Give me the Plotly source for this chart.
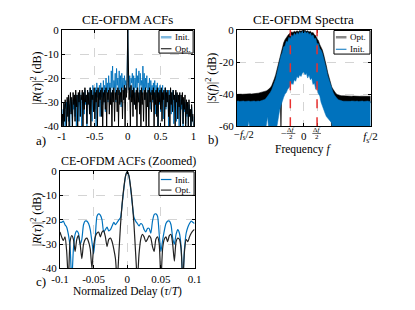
import numpy as np
import plotly.graph_objects as go

W, H = 415, 310
SERIF = "Liberation Serif"


def px(x):
    return x / W


def py(y):
    return 1 - y / H


# ---------------- Panel a: CE-OFDM ACFs (full delay range) ----------------
tau_a = np.round(np.linspace(-1, 1, 201), 2)
acf_init_a = [
    -40, -38, -33, -40, -31, -36, -40, -30, -35, -29,
    -38, -31, -40, -28, -34, -30, -40, -29, -33, -27,
    -36, -29, -40, -27, -32, -28, -38, -26, -31, -28,
    -40, -26, -30, -27, -35, -25, -31, -27, -40, -25,
    -29, -26, -34, -24, -30, -27, -38, -23, -29, -26,
    -33, -24, -40, -22, -28, -25, -32, -23, -36, -22,
    -28, -24, -31, -21, -27, -23, -34, -20, -26, -22,
    -30, -19, -25, -22, -29, -17, -24, -15, -28, -21,
    -24, -18, -30, -16, -23, -20, -27, -17, -25, -19,
    -32, -18, -24, -20, -29, -19, -23, -21, -26, -20,
    0,
    -21, -25, -19, -28, -20, -22, -18, -26, -19, -31,
    -20, -24, -16, -28, -19, -22, -17, -30, -18, -23,
    -21, -27, -15, -25, -18, -29, -20, -24, -19, -31,
    -22, -26, -20, -33, -21, -27, -23, -30, -22, -29,
    -21, -35, -23, -28, -22, -40, -24, -31, -23, -34,
    -25, -30, -23, -37, -26, -29, -24, -33, -25, -30,
    -26, -40, -25, -31, -27, -35, -26, -30, -25, -39,
    -28, -32, -26, -38, -27, -31, -28, -40, -27, -35,
    -29, -33, -28, -40, -29, -34, -30, -39, -31, -36,
    -30, -40, -31, -35, -33, -40, -32, -38, -36, -40,
]
acf_opt_a = [
    -40, -35, -40, -30, -38, -29, -33, -40, -28, -36,
    -27, -40, -30, -26, -35, -28, -40, -26, -31, -27,
    -38, -25, -32, -27, -40, -26, -30, -25, -36, -27,
    -29, -25, -40, -26, -33, -24, -30, -27, -39, -25,
    -31, -26, -35, -24, -40, -25, -29, -27, -34, -24,
    -37, -26, -30, -25, -40, -24, -32, -26, -29, -25,
    -36, -24, -40, -26, -30, -25, -33, -24, -40, -26,
    -29, -25, -35, -24, -31, -26, -40, -25, -30, -24,
    -38, -26, -29, -25, -34, -24, -40, -25, -31, -26,
    -30, -24, -37, -25, -29, -23, -40, -24, -28, -22,
    0,
    -22, -29, -24, -40, -23, -30, -25, -36, -24, -31,
    -26, -33, -25, -40, -24, -30, -26, -35, -25, -40,
    -24, -31, -26, -38, -25, -29, -24, -40, -26, -32,
    -25, -40, -24, -30, -26, -34, -25, -29, -24, -40,
    -26, -31, -25, -36, -24, -40, -26, -30, -25, -33,
    -24, -38, -26, -29, -25, -40, -24, -32, -26, -30,
    -25, -36, -27, -40, -24, -31, -26, -34, -25, -29,
    -27, -40, -25, -30, -26, -37, -27, -32, -26, -40,
    -27, -31, -26, -39, -28, -33, -27, -40, -29, -35,
    -30, -40, -29, -36, -33, -40, -31, -38, -35, -40,
]

# ---------------- Panel b: CE-OFDM spectra (envelopes of dense spectra) ----------------
freq_b = np.round(np.linspace(-0.5, 0.5, 101), 2)
spec_init_upper = [
    -44.5, -44.3, -44.6, -44.4, -44.5, -44.3, -44.6, -44.4, -44.5, -44.3,
    -44.6, -44.4, -44.5, -44.3, -44.6, -44.4, -44.3, -44.5, -44.2, -44.1,
    -43.8, -43.3, -42.5, -41.5, -40.5, -39.0, -37.5, -35.5, -33.0, -30.5,
    -27.0, -23.0, -20.0, -16.0, -14.0, -10.5, -10.0, -7.0, -7.5, -4.5,
    -5.5, -3.0, -4.0, -2.0, -3.2, -1.5, -2.8, -1.0, -2.2, -0.8,
    -1.8,
    -0.8, -2.0, -1.2, -2.8, -1.8, -3.8, -3.0, -5.5, -5.2, -8.5,
    -8.5, -11.5, -12.5, -14.5, -17.5, -20.5, -24.5, -28.5, -31.5, -34.5,
    -37.0, -38.8, -40.5, -41.8, -42.8, -43.5, -43.9, -44.2, -44.3, -44.4,
    -44.5, -44.3, -44.6, -44.4, -44.5, -44.3, -44.6, -44.4, -44.5, -44.3,
    -44.6, -44.4, -44.5, -44.3, -44.6, -44.4, -44.5, -44.3, -44.6, -44.4,
]
spec_init_lower = [
    -65, -65, -65, -65, -65, -65, -65, -65, -65, -57,
    -65, -65, -65, -65, -65, -65, -65, -65, -65, -65,
    -65, -65, -65, -54, -65, -65, -65, -65, -65, -65,
    -62, -55, -50, -47, -44, -42, -40, -39, -37, -36,
    -35, -33, -34, -31, -32, -29, -30, -28, -29, -27,
    -26,
    -28, -27, -30, -28, -31, -30, -34, -33, -37, -36,
    -40, -41, -45, -47, -50, -52, -54, -55, -56, -57,
    -58, -65, -65, -65, -65, -65, -65, -65, -65, -65,
    -65, -65, -65, -65, -65, -65, -65, -65, -65, -65,
    -65, -65, -65, -65, -65, -65, -65, -65, -65, -65,
]
spec_opt_upper = [
    -40.2, -40.0, -40.1, -40.0, -40.1, -40.0, -39.9, -40.0, -39.9, -39.8,
    -39.8, -39.9, -39.7, -39.7, -39.6, -39.5, -39.4, -39.2, -39.0, -38.9,
    -38.8, -38.4, -38.0, -37.5, -37.0, -36.0, -34.8, -33.0, -30.5, -28.0,
    -24.5, -20.5, -17.0, -13.5, -10.5, -8.0, -6.0, -4.5, -3.5, -2.5,
    -2.0, -1.2, -1.5, -0.8, -1.2, -0.5, -1.0, -0.3, -0.8, -0.2,
    -0.5,
    -0.2, -0.8, -0.4, -1.2, -0.7, -1.8, -1.5, -3.0, -3.5, -5.5,
    -6.5, -9.0, -10.5, -12.5, -15.5, -18.5, -22.5, -26.5, -30.0, -33.0,
    -35.5, -37.0, -38.5, -39.5, -40.2, -40.6, -40.8, -41.0, -41.0, -41.1,
    -41.1, -41.2, -41.1, -41.2, -41.2, -41.3, -41.2, -41.3, -41.3, -41.3,
    -41.3, -41.4, -41.3, -41.4, -41.4, -41.3, -41.4, -41.4, -41.3, -41.4,
]
spec_opt_lower = [
    -45.5, -45.5, -45.5, -45.5, -45.5, -45.5, -45.5, -45.5, -45.5, -45.5,
    -45.5, -45.5, -45.5, -45.5, -45.5, -45.5, -45.5, -45.5, -45.5, -45.5,
    -45.5, -45.5, -45.5, -45.5, -45.5, -45.5, -45.5, -45.5, -45.5, -34.0,
    -30.0, -27.0, -24.0, -65.0, -18.0, -14.0, -13.0, -10.0, -10.0, -8.0,
    -8.0, -6.0, -7.0, -5.0, -6.0, -4.0, -5.0, -4.0, -5.0, -4.0,
    -5.0,
    -4.0, -5.0, -4.0, -6.0, -5.0, -7.0, -6.0, -8.0, -8.0, -11.0,
    -11.0, -14.0, -15.0, -17.0, -20.0, -23.0, -27.0, -31.0, -34.0, -37.0,
    -65.0, -45.5, -45.5, -45.5, -45.5, -45.5, -45.5, -45.5, -45.5, -45.5,
    -45.5, -45.5, -45.5, -45.5, -45.5, -45.5, -45.5, -45.5, -45.5, -45.5,
    -45.5, -45.5, -45.5, -45.5, -45.5, -45.5, -45.5, -45.5, -45.5, -45.5,
]
half_bw = 0.1  # Delta f / 2 (normalized to fs)

# ---------------- Panel c: CE-OFDM ACFs (zoomed) ----------------
tau_c = np.linspace(-0.1, 0.1, 81)
acf_init_c = [
    -21, -21, -20.5, -22, -23, -26, -31, -45, -32, -26,
    -24.5, -25.5, -30, -28, -22, -20.5, -20.5, -21.5, -24, -29,
    -34, -27, -18.5, -17.5, -18, -20, -25, -24, -23, -24.5,
    -24, -22.5, -21, -22, -21, -20, -19, -13.5, -7, -2,
    0,
    -2, -7, -13.5, -19, -20.5, -21.5, -22.5, -21.5, -22, -24,
    -25, -23.5, -23.5, -25.5, -20.5, -17.8, -17.5, -18.5, -26, -33,
    -28.5, -24.5, -21.5, -20.5, -20.5, -22, -27.5, -30, -26, -24,
    -25.5, -31, -45, -32, -25.5, -23, -21.5, -20.5, -21, -21.5,
]
acf_opt_c = [
    -25, -27, -28.5, -27, -33, -45, -29, -26.5, -28, -33,
    -28, -26.5, -30, -36, -30, -28, -27.5, -29, -32, -40,
    -31, -27, -25.5, -25, -27, -25, -24.5, -27, -31, -28,
    -27.5, -29, -32, -36, -45, -34, -22, -13, -6.5, -1.8,
    0,
    -1.8, -6.5, -13, -22, -34, -45, -34, -28, -26, -27,
    -29, -28, -26.5, -27.5, -31, -33, -28, -27, -30, -45,
    -32, -28, -27, -29, -26.5, -26, -30, -37, -29, -27.5,
    -28, -32, -45, -33, -28, -29, -27, -25.5, -24.5, -24,
]

BLUE = "#0072BD"

fig = go.Figure()

# Panel a
fig.add_trace(go.Scatter(x=tau_a, y=acf_init_a, mode="lines", name="Init.",
                         line=dict(color="rgba(0,114,189,0.9)", width=1),
                         xaxis="x", yaxis="y", showlegend=False))
fig.add_trace(go.Scatter(x=tau_a, y=acf_opt_a, mode="lines", name="Opt.",
                         line=dict(color="black", width=1),
                         xaxis="x", yaxis="y", showlegend=False))

# Panel b (Opt. drawn first, Init. on top)
fb = list(freq_b)
fig.add_trace(go.Scatter(x=fb + fb[::-1], y=spec_opt_upper + spec_opt_lower[::-1],
                         mode="lines", fill="toself", fillcolor="black",
                         line=dict(color="black", width=0.5), name="Opt.",
                         xaxis="x2", yaxis="y2", showlegend=False))
fig.add_trace(go.Scatter(x=fb + fb[::-1], y=spec_init_upper + spec_init_lower[::-1],
                         mode="lines", fill="toself", fillcolor=BLUE,
                         line=dict(color=BLUE, width=0.5), name="Init.",
                         xaxis="x2", yaxis="y2", showlegend=False))

# Panel c
fig.add_trace(go.Scatter(x=tau_c, y=acf_init_c, mode="lines", name="Init.",
                         line=dict(color=BLUE, width=1.2, shape="spline", smoothing=0.6),
                         xaxis="x3", yaxis="y3", showlegend=False))
fig.add_trace(go.Scatter(x=tau_c, y=acf_opt_c, mode="lines", name="Opt.",
                         line=dict(color="#222222", width=1.2, shape="spline", smoothing=0.6),
                         xaxis="x3", yaxis="y3", showlegend=False))

axis_style = dict(showline=True, linecolor="black", linewidth=1, mirror="ticks",
                  ticks="inside", ticklen=3, tickcolor="black", showgrid=True,
                  gridcolor="#d4d4d4", griddash="dash", gridwidth=1, zeroline=False,
                  tickfont=dict(family=SERIF, size=11, color="black"), fixedrange=True)

ya_dom = [py(125), py(25)]
yc_dom = [py(273), py(172)]

fig.update_layout(
    width=W, height=H, autosize=False,
    margin=dict(l=0, r=0, t=0, b=0),
    paper_bgcolor="white", plot_bgcolor="white",
    showlegend=False,
    font=dict(family=SERIF, size=11, color="black"),
    xaxis=dict(axis_style, domain=[px(55), px(192)], range=[-1, 1], anchor="y",
               tickvals=[-1, -0.5, 0, 0.5, 1], ticktext=["-1", "-0.5", "0", "0.5", "1"]),
    yaxis=dict(axis_style, domain=ya_dom, range=[-40, 0], anchor="x",
               tickvals=[-40, -30, -20, -10, 0], ticktext=["-40", "-30", "-20", "-10", "0"]),
    xaxis2=dict(axis_style, domain=[px(237), px(376)], range=[-0.5, 0.5], anchor="y2",
                tickvals=[0, 0.5],
                ticktext=["0", "<i>f</i><sub>s</sub>/2"],
                minor=dict(tickvals=[-0.5, -half_bw, half_bw], ticks="inside", ticklen=3,
                           tickcolor="black", showgrid=True, gridcolor="#d4d4d4",
                           griddash="dash")),
    yaxis2=dict(axis_style, domain=ya_dom, range=[-60, 0], anchor="x2",
                tickvals=[-60, -40, -20, 0], ticktext=["-60", "-40", "-20", "0"]),
    xaxis3=dict(axis_style, domain=[px(53), px(193)], range=[-0.1, 0.1], anchor="y3",
                tickvals=[-0.1, -0.05, 0, 0.05, 0.1], ticktext=["-0.1", "-0.05", "0", "0.05", "0.1"]),
    yaxis3=dict(axis_style, domain=yc_dom, range=[-40, 0], anchor="x3",
                tickvals=[-40, -30, -20, -10, 0], ticktext=["-40", "-30", "-20", "-10", "0"]),
)

shapes = []
# red dashed lines at +/- Delta f / 2
for xv in (-half_bw, half_bw):
    shapes.append(dict(type="line", xref="x2", yref="y2", x0=xv, x1=xv, y0=-60, y1=0,
                       line=dict(color="#e8312f", width=1.5, dash="dash"), layer="above"))


def legend_box(x0, y0, x1, y1):
    shapes.append(dict(type="rect", xref="paper", yref="paper", x0=px(x0), x1=px(x1),
                       y0=py(y1), y1=py(y0), line=dict(color="black", width=1),
                       fillcolor="white", layer="above"))


def legend_line(x0, x1, y, color, width):
    shapes.append(dict(type="line", xref="paper", yref="paper", x0=px(x0), x1=px(x1),
                       y0=py(y), y1=py(y), line=dict(color=color, width=width), layer="above"))


annotations = []


def text(x, y, s, size=10, xanchor="center", yanchor="middle", angle=0):
    annotations.append(dict(x=px(x), y=py(y), xref="paper", yref="paper", text=s,
                            showarrow=False, xanchor=xanchor, yanchor=yanchor,
                            textangle=angle, font=dict(family=SERIF, size=size, color="black")))


# Legends
legend_box(156, 25.5, 191.5, 49)
legend_line(158, 169, 32.5, "rgba(0,114,189,0.5)", 2.5)
legend_line(158, 169, 44.5, "black", 1)
text(170.5, 32.5, "Init.", 9, xanchor="left")
text(170.5, 44.5, "Opt.", 9, xanchor="left")

legend_box(338, 25.5, 375.5, 50)
legend_line(340, 351, 32.5, "#888888", 2.5)
legend_line(340, 351, 45, BLUE, 1)
text(353, 32.5, "Opt.", 9, xanchor="left")
text(353, 45, "Init.", 9, xanchor="left")

legend_box(156, 172.5, 192.5, 197)
legend_line(158, 169, 180.5, BLUE, 1.2)
legend_line(158, 169, 191.5, "#333333", 1.2)
text(170.5, 180.5, "Init.", 9, xanchor="left")
text(170.5, 191.5, "Opt.", 9, xanchor="left")

# Titles
text(123.5, 14.5, "CE-OFDM ACFs", 13)
text(306.5, 14.5, "CE-OFDM Spectra", 13)
text(124, 161, "CE-OFDM ACFs (Zoomed)", 12)

# Axis titles
text(28, 75, "|<i>R</i>(<i>\u03c4</i>)|<sup>2</sup> (dB)", 12, angle=-90)
text(210, 75, "|<i>S</i>(<i>f</i>)|<sup>2</sup> (dB)", 12, angle=-90)
text(28, 222, "|<i>R</i>(<i>\u03c4</i>)|<sup>2</sup> (dB)", 12, angle=-90)
text(306, 149, "Frequency <i>f</i>", 11.5)
text(123, 297, "Normalized Delay (<i>\u03c4</i>/<i>T</i>)", 11.5)

# Panel labels
text(33, 140, "a)", 13)
text(212, 139, "b)", 12.5)
text(33, 287, "c)", 13)

# -fs/2 label at the left end of panel b's frequency axis
text(244, 135, "\u2212<i>f</i><sub>s</sub>/2", 10.5)

# Delta f / 2 fraction tick labels
for xc, sign in ((293.3, "\u2212"), (320.0, "")):
    text(xc, 129.0, "\u0394<i>f</i>", 7)
    text(xc, 136.2, "2", 7)
    shapes.append(dict(type="line", xref="paper", yref="paper", x0=px(xc - 4.5), x1=px(xc + 4.5),
                       y0=py(132.6), y1=py(132.6), line=dict(color="black", width=0.6)))
    if sign:
        text(xc - 7.5, 133, sign, 10)

fig.update_layout(shapes=shapes, annotations=annotations)

fig.write_html(
    "out.html",
    config={"displayModeBar": False, "staticPlot": True},
    post_script="document.body.style.margin='0';document.body.style.padding='0';"
                "document.body.style.overflow='hidden';",
)
